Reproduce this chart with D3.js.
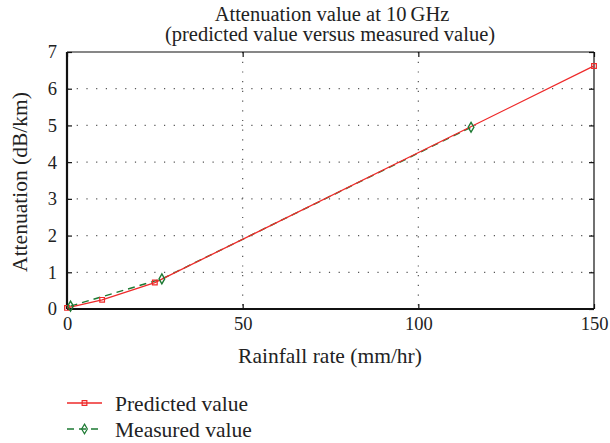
<!DOCTYPE html>
<html>
<head>
<meta charset="utf-8">
<script src="https://cdn.jsdelivr.net/npm/d3@7"></script>
<style>
  body { margin: 0; background: #fff; }
</style>
</head>
<body>
<svg id="chart" width="610" height="443"></svg>
<script>
// data
const predictedRain = [0, 10, 25, 150];
const predictedAtt = [0.03, 0.25, 0.72, 6.62];
const measuredRain = [1, 27, 115];
const measuredAtt = [0.08, 0.82, 4.95];
const xTicks = [0, 50, 100, 150];
const yTicks = [0, 1, 2, 3, 4, 5, 6, 7];
const titleLines = ['Attenuation value at 10\u2009GHz', '(predicted value versus measured value)'];

const FONT = "'Liberation Serif', 'Times New Roman', serif";
const svg = d3.select('#chart');
const m = { left: 67, right: 594, top: 52, bottom: 309 };
const x = d3.scaleLinear().domain([0, 150]).range([m.left, m.right]);
const y = d3.scaleLinear().domain([0, 7]).range([m.bottom, m.top]);

// dotted grid
const grid = svg.append('g').attr('stroke', '#555').attr('stroke-width', 1.2)
  .attr('stroke-dasharray', '1.2 8.5');
grid.selectAll('.gy').data(yTicks.slice(1, -1)).join('line')
  .attr('x1', m.left).attr('x2', m.right)
  .attr('y1', d => y(d)).attr('y2', d => y(d));
grid.selectAll('.gx').data(xTicks.slice(1, -1)).join('line')
  .attr('y1', m.top).attr('y2', m.bottom)
  .attr('x1', d => x(d)).attr('x2', d => x(d));

// frame with inward ticks
const axisStyle = g => {
  g.attr('font-family', FONT).attr('font-size', 18.5);
  g.select('.domain').remove();
  g.selectAll('.tick line').attr('stroke', '#111').attr('stroke-width', 1.2);
  g.selectAll('.tick text').attr('fill', '#222');
};
svg.append('g').attr('transform', `translate(0,${m.bottom})`)
  .call(d3.axisBottom(x).tickValues(xTicks).tickFormat(d3.format('d')).tickSize(-5).tickPadding(8))
  .call(axisStyle);
svg.append('g').attr('transform', `translate(${m.left},0)`)
  .call(d3.axisLeft(y).tickValues(yTicks).tickFormat(d3.format('d')).tickSize(-5).tickPadding(10))
  .call(axisStyle);
svg.append('g').attr('transform', `translate(0,${m.top})`)
  .call(d3.axisTop(x).tickValues(xTicks).tickSize(-5).tickFormat(''))
  .call(axisStyle);
svg.append('g').attr('transform', `translate(${m.right},0)`)
  .call(d3.axisRight(y).tickValues(yTicks).tickSize(-5).tickFormat(''))
  .call(axisStyle);

svg.append('line').attr('x1', m.left).attr('x2', m.right).attr('y1', m.top).attr('y2', m.top)
  .attr('stroke', '#111').attr('stroke-width', 1.2);
svg.append('line').attr('x1', m.right).attr('x2', m.right).attr('y1', m.top).attr('y2', m.bottom)
  .attr('stroke', '#111').attr('stroke-width', 1.2);
svg.append('line').attr('x1', m.left).attr('x2', m.right).attr('y1', m.bottom).attr('y2', m.bottom)
  .attr('stroke', '#111').attr('stroke-width', 2.2);
svg.append('line').attr('x1', m.left).attr('x2', m.left).attr('y1', m.top).attr('y2', m.bottom)
  .attr('stroke', '#111').attr('stroke-width', 2.2);

// series
const red = '#ee2a2a', green = '#1d7a33';
const predicted = predictedRain.map((r, i) => [r, predictedAtt[i]]);
const measured = measuredRain.map((r, i) => [r, measuredAtt[i]]);
const line = d3.line().x(d => x(d[0])).y(d => y(d[1]));

svg.append('path').datum(measured).attr('d', line).attr('fill', 'none')
  .attr('stroke', green).attr('stroke-width', 1.4).attr('stroke-dasharray', '7 5');
svg.append('path').datum(predicted).attr('d', line).attr('fill', 'none')
  .attr('stroke', red).attr('stroke-width', 1.3);

const sq = d3.symbol().type(d3.symbolSquare).size(22);
const dia = d3.symbol().type(d3.symbolDiamond).size(28);
svg.selectAll('.pm').data(predicted).join('path')
  .attr('d', sq).attr('transform', d => `translate(${x(d[0])},${y(d[1])})`)
  .attr('fill', 'none').attr('stroke', red).attr('stroke-width', 1.2);
svg.selectAll('.mm').data(measured).join('path')
  .attr('d', dia).attr('transform', d => `translate(${x(d[0])},${y(d[1])})`)
  .attr('fill', 'none').attr('stroke', green).attr('stroke-width', 1.4);

// titles and labels
const txt = svg.append('g').attr('font-family', FONT).attr('fill', '#222');
txt.append('text').attr('x', 332).attr('y', 21).attr('text-anchor', 'middle')
  .attr('font-size', 20.5).text(titleLines[0]);
txt.append('text').attr('x', 330).attr('y', 41).attr('text-anchor', 'middle')
  .attr('font-size', 20.5).text(titleLines[1]);
txt.append('text').attr('x', 330).attr('y', 363).attr('text-anchor', 'middle')
  .attr('font-size', 21.5).text('Rainfall rate (mm/hr)');
txt.append('text').attr('transform', `translate(27,182) rotate(-90)`)
  .attr('text-anchor', 'middle').attr('font-size', 21.5).text('Attenuation (dB/km)');

// legend
const legend = [
  { label: 'Predicted value', color: red, dash: null, sym: sq, y: 403 },
  { label: 'Measured value', color: green, dash: '7 5', sym: dia, y: 429 }
];
const lg = svg.selectAll('.lg').data(legend).join('g');
lg.append('line').attr('x1', 67).attr('x2', 102).attr('y1', d => d.y).attr('y2', d => d.y)
  .attr('stroke', d => d.color).attr('stroke-width', 1.3).attr('stroke-dasharray', d => d.dash);
lg.append('path').attr('d', d => d.sym()).attr('transform', d => `translate(84.5,${d.y})`)
  .attr('fill', 'none').attr('stroke', d => d.color).attr('stroke-width', 1.2);
lg.append('text').attr('x', 115).attr('y', d => d.y + 7.5).attr('font-family', FONT)
  .attr('font-size', 21.5).attr('fill', '#222').text(d => d.label);
</script>
</body>
</html>
